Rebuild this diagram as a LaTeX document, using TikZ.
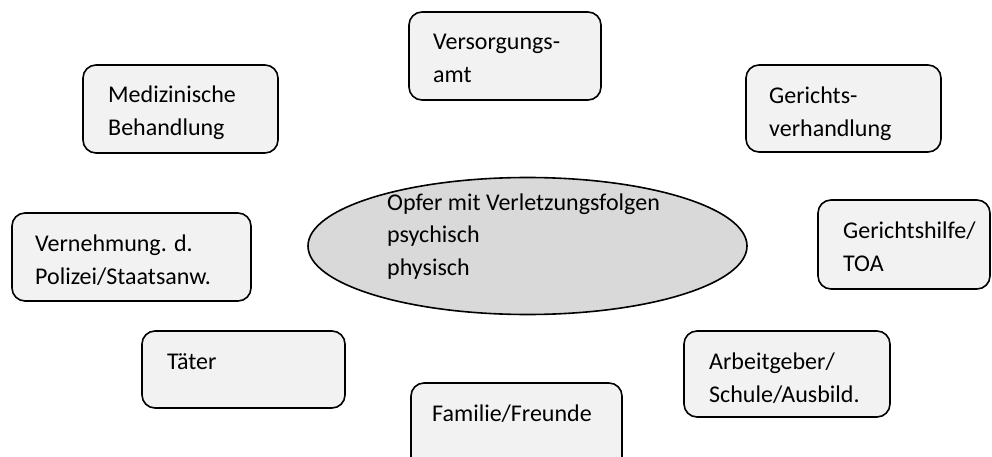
\documentclass[tikz,border=0pt]{standalone}
\usepackage{fontspec}
\setmainfont{Carlito}
\usetikzlibrary{shapes.geometric}
\definecolor{boxfill}{HTML}{F2F2F2}
\definecolor{ellfill}{HTML}{D9D9D9}
\tikzset{
  stdbox/.style={draw=black, line width=1.6pt, fill=boxfill, rounded corners=13pt},
  ovalshape/.style={draw=black, line width=1.6pt, fill=ellfill, ellipse, inner sep=0pt},
  txt/.style={anchor=base west, inner sep=0pt, align=left, font=\fontsize{24}{33}\selectfont}
}
\begin{document}
\begin{tikzpicture}[x=1pt,y=-1pt]
\clip (0,0) rectangle (992,457);
\useasboundingbox (0,0) rectangle (992,457);
% ellipse
\node[ovalshape, minimum width=439pt, minimum height=137pt] (opfer) at (527.5,246) {};
\node[txt, font=\fontsize{24}{32.5}\selectfont] (opfertext) at (387,275) {Opfer mit Verletzungsfolgen\\psychisch\\physisch};
% boxes
\draw[stdbox] (409,12) rectangle (601,100) node[pos=0] (bversorg) {};
\node[txt] (tversorg) at (433,83) {Versorgungs-\\amt};
\draw[stdbox] (83,65) rectangle (278,153) node[pos=0] (bmed) {};
\node[txt] (tmed) at (108,136) {Medizinische\\Behandlung};
\draw[stdbox] (746,65) rectangle (941,152) node[pos=0] (bgericht) {};
\node[txt] (tgericht) at (769,137) {Gerichts-\\verhandlung};
\draw[stdbox] (818,200) rectangle (990,289) node[pos=0] (bhilfe) {};
\node[txt] (thilfe) at (843,271) {Gerichtshilfe/\\TOA};
\draw[stdbox] (12,213) rectangle (251,301) node[pos=0] (bvern) {};
\node[txt] (tvern) at (35,284) {Vernehmung. d.\\Polizei/Staatsanw.};
\draw[stdbox] (142,331) rectangle (345,408) node[pos=0] (btaeter) {};
\node[txt] (ttaeter) at (167,369) {Täter};
\draw[stdbox] (684,331) rectangle (890,417) node[pos=0] (barbeit) {};
\node[txt] (tarbeit) at (709,402) {Arbeitgeber/\\Schule/Ausbild.};
\draw[stdbox] (411,383) rectangle (622,480) node[pos=0] (bfam) {};
\node[txt] (tfam) at (432,421) {Familie/Freunde};
\end{tikzpicture}
\end{document}
